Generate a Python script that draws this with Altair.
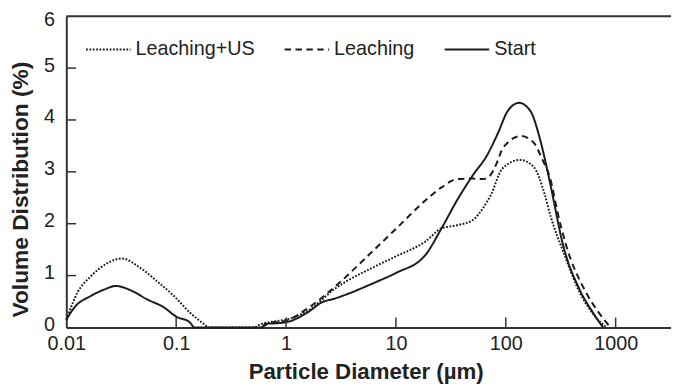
import altair as alt
import pandas as pd

# ---- data ----
series_names = ["Leaching+US", "Leaching", "Start"]

dia_us = [0.01, 0.0127, 0.0168, 0.0237, 0.032, 0.047, 0.067, 0.095, 0.133, 0.178,
          0.2, 0.3, 0.5, 0.6, 0.8, 1, 1.6, 2.8, 6.5, 10,
          18.6, 26, 36, 50, 62, 73, 93, 135, 180, 225,
          257, 335, 470, 670, 830]
vol_us = [0.15, 0.68, 0.99, 1.24, 1.33, 1.15, 0.89, 0.61, 0.29, 0.07,
          0.0, 0.0, 0.0, 0.07, 0.12, 0.15, 0.33, 0.75, 1.18, 1.37,
          1.66, 1.91, 1.97, 2.07, 2.3, 2.55, 3.06, 3.23, 3.09, 2.58,
          2.13, 1.45, 0.68, 0.18, 0.0]

dia_le = [0.6, 0.7, 1, 1.6, 2.8, 6.5, 10, 18.6, 26, 36, 50, 62, 72, 82, 95, 138,
          180, 214, 257, 293, 357, 520, 700, 900]
vol_le = [0.0, 0.08, 0.13, 0.38, 0.79, 1.52, 1.9, 2.45, 2.7, 2.86, 2.87, 2.86, 2.93, 3.15, 3.47, 3.69,
          3.56, 3.25, 2.83, 2.26, 1.56, 0.73, 0.29, 0.0]

dia_st = [0.01, 0.0119, 0.0168, 0.0221, 0.0282, 0.04, 0.0545, 0.077, 0.1, 0.133,
          0.147, 0.6, 0.65, 0.8, 1, 1.6, 2.1, 2.8, 6.5, 10,
          18.6, 26, 36, 50, 68, 85, 104, 132, 168, 199,
          225, 255, 335, 470, 620, 700, 770]
vol_st = [0.15, 0.39, 0.61, 0.73, 0.80, 0.70, 0.54, 0.39, 0.21, 0.10,
          0.0, 0.0, 0.07, 0.08, 0.1, 0.3, 0.48, 0.56, 0.87, 1.05,
          1.40, 1.91, 2.45, 2.93, 3.33, 3.75, 4.17, 4.33, 4.17, 3.73,
          3.28, 2.75, 1.56, 0.73, 0.29, 0.12, 0.0]

x_tick_values = [0.01, 0.1, 1, 10, 100, 1000]
x_inner_ticks = [0.1, 1, 10, 100, 1000]
y_tick_values = [0, 1, 2, 3, 4, 5, 6]
y_inner_ticks = [1, 2, 3, 4, 5]

rows = []
for name, xs, ys in [(series_names[0], dia_us, vol_us),
                     (series_names[1], dia_le, vol_le),
                     (series_names[2], dia_st, vol_st)]:
    for a, b in zip(xs, ys):
        rows.append({"dia": a, "vol": b, "series": name})
df = pd.DataFrame(rows)

FONT = "Liberation Sans"
INK = "#1c1c1c"
W, H = 612, 315

xscale = alt.Scale(type="log", domain=[0.01, 3190], nice=False)
yscale = alt.Scale(domain=[0, 6], nice=False)

xaxis = alt.Axis(values=x_tick_values, format="~g", title="Particle Diameter (µm)",
                 ticks=False, grid=False, labelPadding=6, labelFontSize=20,
                 labelFont=FONT, labelColor="#222", titleFont=FONT, titleFontSize=22.5,
                 titleFontWeight="bold", titleColor="#222", titlePadding=8,
                 titleX=303, domainColor="#333", domainWidth=2, labelFlush=False)
yaxis = alt.Axis(values=y_tick_values, title="Volume Distribution (%)",
                 ticks=False, grid=False, labelPadding=12, labelFontSize=20,
                 labelFont=FONT, labelColor="#222", titleFont=FONT, titleFontSize=23,
                 titleFontWeight="bold", titleColor="#222", titlePadding=11,
                 titleY=175, domainColor="#333", domainWidth=2,
                 labelOffset={"condition": {"test": "datum.value == 6", "value": 3}, "value": -3})

lines = alt.Chart(df).mark_line(
    color=INK, strokeWidth=2, interpolate="monotone"
).encode(
    x=alt.X("dia:Q", scale=xscale, axis=xaxis),
    y=alt.Y("vol:Q", scale=yscale, axis=yaxis),
    strokeDash=alt.StrokeDash(
        "series:N",
        scale=alt.Scale(domain=series_names, range=[[1.8, 1.6], [6.5, 4.5], [1, 0]]),
        legend=alt.Legend(orient="none", legendX=19, legendY=10, direction="horizontal",
                          title=None, symbolType="stroke", symbolSize=2025,
                          symbolStrokeWidth=2, symbolStrokeColor=INK,
                          labelFontSize=20, labelFont=FONT, labelColor="#222",
                          labelOffset=4, columnPadding=26),
    ),
    detail="series:N",
)

xt = alt.Chart(pd.DataFrame({"dia": x_inner_ticks})).mark_rule(color="#333", strokeWidth=1.5).encode(
    x=alt.X("dia:Q", scale=xscale, axis=xaxis), y=alt.value(H), y2=alt.value(H - 10))
yt = alt.Chart(pd.DataFrame({"vol": y_inner_ticks})).mark_rule(color="#333", strokeWidth=1.5).encode(
    y=alt.Y("vol:Q", scale=yscale, axis=yaxis), x=alt.value(0), x2=alt.value(10))
top = alt.Chart(pd.DataFrame({"k": [0]})).mark_rule(color="#333", strokeWidth=2).encode(
    y=alt.value(0), x=alt.value(0), x2=alt.value(W))

chart = alt.layer(lines, xt, yt, top).properties(
    width=W, height=H,
    autosize=alt.AutoSizeParams(type="none"),
    padding={"left": 59, "top": 6, "right": 0, "bottom": 62},
).configure_view(stroke=None).configure(background="white")

chart.save("out.html", embed_options={"renderer": "svg", "actions": False})
